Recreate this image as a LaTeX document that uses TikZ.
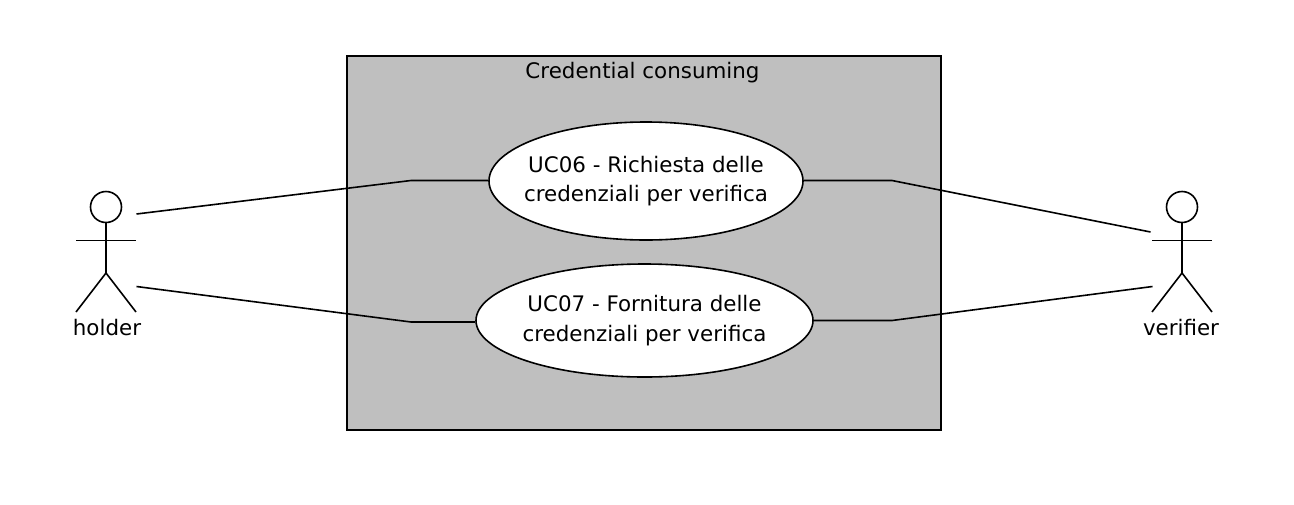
\documentclass[tikz,border=0pt]{standalone}
\usepackage{fontspec}
\setmainfont{DejaVu Sans}
\usetikzlibrary{shapes.geometric,positioning}
\definecolor{boxgray}{HTML}{BFBFBF}
\tikzset{
    umlline/.style={line width=0.8pt},
    usecase/.style={ellipse, draw, umlline, fill=white, inner xsep=-8pt, inner ysep=0pt, align=center, font=\fontsize{10.7}{14.8}\selectfont},
    lbl/.style={inner sep=0pt, font=\fontsize{10.7}{12}\selectfont}
}
\begin{document}
\begin{tikzpicture}[x=0.5pt,y=-0.5pt]
    \useasboundingbox (0,0) rectangle (1294,504);

    \node[draw, umlline, fill=boxgray, minimum width=297pt, minimum height=187pt, inner sep=0pt] (system) at (644,243) {};
    \node[lbl] (systitle) at (642.5,72.5) {Credential consuming};

    \node[usecase, minimum width=157pt, minimum height=59pt] (uc06) at (646,181) {UC06 - Richiesta delle\\credenziali per verifica};
    \node[usecase, minimum width=168.5pt, minimum height=56.5pt] (uc07) at (644.5,320.5) {UC07 - Fornitura delle\\credenziali per verifica};

    % actors
    \foreach \act/\xc/\xl in {holder/106/107, verifier/1182/1181} {
        \node[circle, draw, umlline, minimum size=15.5pt, inner sep=0pt] (\act head) at (\xc,207) {};
        \coordinate (\act hip) at (\xc,273);
        \coordinate (\act armL) at (\xc-30,240.5);
        \coordinate (\act armR) at (\xc+30,240.5);
        \coordinate (\act legL) at (\xc-30,312);
        \coordinate (\act legR) at (\xc+30,312);
        \draw[umlline] (\act head) -- (\act hip);
        \draw[umlline] (\act armL) -- (\act armR);
        \draw[umlline] (\act legL) -- (\act hip) -- (\act legR);
        \node[lbl] (\act name) at (\xl,328) {\act};
    }

    % connector ends
    \coordinate (holderA) at (136.5,214);
    \coordinate (holderB) at (136.5,286.5);
    \coordinate (verifierA) at (1150.5,232);
    \coordinate (verifierB) at (1152.5,286.5);
    \coordinate (bendA) at (411,180.5);
    \coordinate (bendB) at (411,322);
    \coordinate (bendC) at (892,180.5);
    \coordinate (bendD) at (892,320.5);

    \draw[umlline] (holderA) -- (bendA) -- (uc06.west |- bendA);
    \draw[umlline] (holderB) -- (bendB) -- (uc07.west |- bendB);
    \draw[umlline] (uc06.east |- bendC) -- (bendC) -- (verifierA);
    \draw[umlline] (uc07.east |- bendD) -- (bendD) -- (verifierB);
\end{tikzpicture}
\end{document}
